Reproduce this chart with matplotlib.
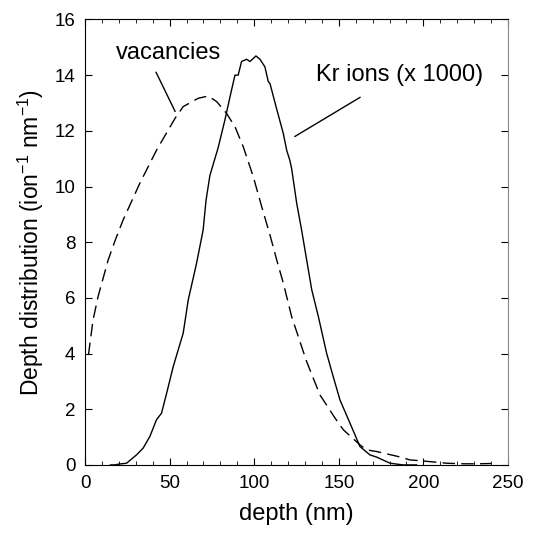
import matplotlib
matplotlib.use("Agg")
import matplotlib.pyplot as plt

plt.rcParams['font.family'] = ['Liberation Sans', 'DejaVu Sans']
plt.rcParams['mathtext.fontset'] = 'custom'
plt.rcParams['mathtext.rm'] = 'Liberation Sans'

kr_x = [15, 17.6, 20, 24.5, 30.4, 34.3, 38.3, 42.2, 45.2, 48.2, 52.1, 58, 61, 65.9, 69.8, 71.5, 73.8,
        78.7, 82.7, 85.6, 88.6, 90.5, 92.5, 95.5, 97.5, 101, 103.4, 106.3, 108.3, 109.3, 113.2, 117.2,
        119.2, 121, 122.1, 125.1, 128, 131, 134, 137.9, 142.8, 146.7, 150.7, 156.6, 162.5, 168.4,
        172.4, 180.3, 188, 196]
kr_y = [0.0, 0.0, 0.03, 0.06, 0.36, 0.6, 1.02, 1.62, 1.86, 2.57, 3.53, 4.73, 5.93, 7.24, 8.44, 9.5,
        10.4, 11.4, 12.4, 13.2, 14.0, 14.0, 14.49, 14.57, 14.49, 14.69, 14.57, 14.3, 13.77, 13.7, 12.8,
        11.9, 11.3, 10.95, 10.65, 9.4, 8.44, 7.36, 6.29, 5.33, 4.01, 3.17, 2.33, 1.5, 0.66, 0.36,
        0.28, 0.06, 0.0, 0.0]

vac_x = [2, 4.7, 7.7, 13.6, 18, 22.5, 32.4, 42.2, 53.2, 58, 66.9, 72.8, 77.8, 83.6, 88.6, 93.5, 99.4,
         104.3, 109.3, 113.3, 117.2, 122.1, 129, 131, 136.9, 138.9, 147.8, 152.7, 162.5, 166.5,
         172.4, 185.2, 192, 200, 213.8, 224, 232, 240]
vac_y = [3.95, 5.2, 6.05, 7.35, 8.1, 8.8, 10.12, 11.3, 12.45, 12.87, 13.17, 13.25, 13.05, 12.63, 12.15,
         11.43, 10.36, 9.3, 8.26, 7.36, 6.53, 5.33, 4.07, 3.71, 2.81, 2.51, 1.68, 1.26, 0.72, 0.54,
         0.48, 0.3, 0.18, 0.14, 0.06, 0.04, 0.04, 0.05]

fig = plt.figure(figsize=(5.35, 5.35), dpi=100)
ax = fig.add_axes([0.159, 0.131, 0.7905, 0.8326])

ax.plot(kr_x, kr_y, color='black', lw=1.0)
ax.plot(vac_x, vac_y, color='black', lw=1.0, dashes=(9, 4.5))

ax.set_xlim(0, 250)
ax.set_ylim(0, 16)
ax.set_xticks([0, 50, 100, 150, 200, 250])
ax.set_xticks(range(0, 251, 10), minor=True)
ax.set_yticks(range(0, 17, 2))
ax.tick_params(which='both', direction='in', top=True, right=True, labelsize=13.5, pad=7)
ax.tick_params(which='major', length=5)
ax.tick_params(which='minor', length=3)
ax.spines['right'].set_color('#888888')

ax.set_xlabel('depth (nm)', fontsize=17, labelpad=8)
ax.set_ylabel('Depth distribution (ion$^{-1}$ nm$^{-1}$)', fontsize=16.5, labelpad=6)

ax.text(49.6, 14.8, 'vacancies', fontsize=17, ha='center', va='center')
ax.plot([42, 53.2], [14.1, 12.7], color='black', lw=1.0)
ax.text(186, 14.0, 'Kr ions (x 1000)', fontsize=17, ha='center', va='center')
ax.plot([162.5, 124.1], [13.2, 11.8], color='black', lw=1.0)

fig.savefig('out.png', dpi=100)
